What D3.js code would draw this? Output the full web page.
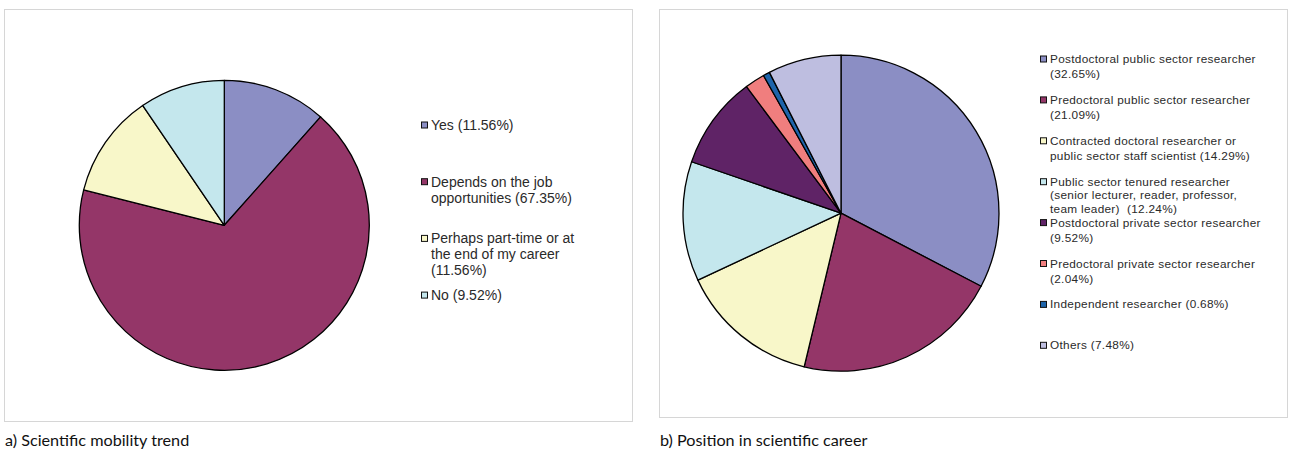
<!DOCTYPE html>
<html>
<head>
<meta charset="utf-8">
<script src="https://cdn.jsdelivr.net/npm/d3@7"></script>
<style>
  html, body { margin: 0; padding: 0; background: #ffffff; }
  svg { display: block; }
</style>
</head>
<body>
<svg id="chart" width="1290" height="455"></svg>
<script>
// ---- Data ----
const mobilityCategories = ["Yes", "Depends on the job opportunities", "Perhaps part-time or at the end of my career", "No"];
const mobilityValues = [11.56, 67.35, 11.56, 9.52];
const mobilityColors = ["#8B8EC4", "#943668", "#F8F7C9", "#C4E7ED"];
const mobilityLegendLines = [
  ["Yes (11.56%)"],
  ["Depends on the job", "opportunities (67.35%)"],
  ["Perhaps part-time or at", "the end of my career", "(11.56%)"],
  ["No (9.52%)"]
];

const positionCategories = [
  "Postdoctoral public sector researcher",
  "Predoctoral public sector researcher",
  "Contracted doctoral researcher or public sector staff scientist",
  "Public sector tenured researcher (senior lecturer, reader, professor, team leader)",
  "Postdoctoral private sector researcher",
  "Predoctoral private sector researcher",
  "Independent researcher",
  "Others"
];
const positionValues = [32.65, 21.09, 14.29, 12.24, 9.52, 2.04, 0.68, 7.48];
const positionColors = ["#8B8EC4", "#943668", "#F8F7C9", "#C4E7ED", "#5F2366", "#F07E7E", "#1E64AA", "#BEBEE0"];
const positionLegendLines = [
  ["Postdoctoral public sector researcher", "(32.65%)"],
  ["Predoctoral public sector researcher", "(21.09%)"],
  ["Contracted doctoral researcher or", "public sector staff scientist (14.29%)"],
  ["Public sector tenured researcher", "(senior lecturer, reader, professor,", "team leader)  (12.24%)"],
  ["Postdoctoral private sector researcher", "(9.52%)"],
  ["Predoctoral private sector researcher", "(2.04%)"],
  ["Independent researcher (0.68%)"],
  ["Others (7.48%)"]
];

const captions = ["a) Scientific mobility trend", "b) Position in scientific career"];

// ---- Drawing ----
const svg = d3.select("#chart");

function drawPanel(cfg) {
  const g = svg.append("g");
  // frame
  g.append("rect")
    .attr("x", cfg.box[0] + 0.5).attr("y", cfg.box[1] + 0.5)
    .attr("width", cfg.box[2]).attr("height", cfg.box[3])
    .attr("fill", "#fff").attr("stroke", "#D6D6D6").attr("stroke-width", 1);

  const pie = d3.pie().sort(null).value(d => d.value);
  const arc = d3.arc().innerRadius(0).outerRadius(cfg.r);
  const data = cfg.categories.map((c, i) => ({ name: c, value: cfg.values[i] }));

  const color = d3.scaleOrdinal().domain(cfg.categories).range(cfg.colors);

  g.append("g")
    .attr("transform", `translate(${cfg.cx},${cfg.cy})`)
    .selectAll("path")
    .data(pie(data))
    .join("path")
    .attr("d", arc)
    .attr("fill", d => color(d.data.name))
    .attr("stroke", "#000")
    .attr("stroke-width", 1.3)
    .attr("stroke-linejoin", "round");

  // legend
  const lg = g.append("g");
  const items = lg.selectAll("g.item")
    .data(cfg.categories)
    .join("g")
    .attr("class", "item")
    .attr("transform", (d, i) => `translate(${cfg.legX},${cfg.legY + i * cfg.legStep})`);

  items.append("rect")
    .attr("x", -cfg.sq - 3.5).attr("y", -cfg.sq / 2)
    .attr("width", cfg.sq).attr("height", cfg.sq)
    .attr("fill", d => color(d))
    .attr("stroke", "#111").attr("stroke-width", 1);

  items.each(function (d, i) {
    const n = cfg.lines[i].length;
    const lh = n > 2 ? cfg.lineH3 : cfg.lineH;
    const t = d3.select(this).append("text")
      .attr("x", 0).attr("y", 0)
      .attr("font-family", "'Liberation Sans', Arial, sans-serif")
      .attr("font-size", cfg.fontSize)
      .attr("letter-spacing", cfg.ls)
      .attr("fill", "#2a2a2a")
      .attr("dominant-baseline", "central");
    cfg.lines[i].forEach((line, k) => {
      t.append("tspan").attr("x", 0).attr("y", k * lh).text(line)
        .style("white-space", "pre");
    });
  });

  // caption
  svg.append("text")
    .attr("x", cfg.capX).attr("y", 446)
    .attr("font-family", "Lato, 'Open Sans', sans-serif")
    .attr("font-size", 16.2)
    .attr("fill", "#111")
    .text(cfg.caption);
}

drawPanel({
  box: [4, 9, 628, 412],
  cx: 224.3, cy: 225.3, r: 145,
  categories: mobilityCategories, values: mobilityValues, colors: mobilityColors,
  lines: mobilityLegendLines,
  legX: 431, legY: 125, legStep: 56.7, lineH: 16, lineH3: 16, fontSize: 14, ls: 0, sq: 6,
  caption: captions[0], capX: 5
});

drawPanel({
  box: [659, 9, 628, 408],
  cx: 841, cy: 213.2, r: 158,
  categories: positionCategories, values: positionValues, colors: positionColors,
  lines: positionLegendLines,
  legX: 1050, legY: 59, legStep: 40.9, lineH: 15.3, lineH3: 13.8, fontSize: 11.8, ls: 0.3, sq: 6,
  caption: captions[1], capX: 660
});
</script>
</body>
</html>
